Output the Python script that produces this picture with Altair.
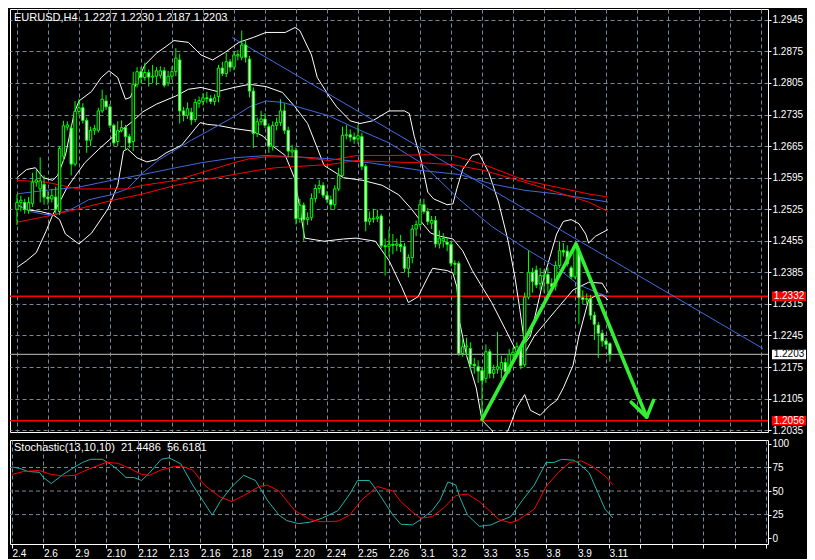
import json
import altair as alt
import pandas as pd

# ---------------- data ----------------
bar_open = [
    1.2525, 1.2540, 1.2540, 1.2523, 1.2538, 1.2585, 1.2570, 1.2580, 1.2552, 1.2548,
    1.2552, 1.2520, 1.2643, 1.2707, 1.2705, 1.2625, 1.2742, 1.2750, 1.2722, 1.2678,
    1.2700, 1.2700, 1.2743, 1.2765, 1.2752, 1.2711, 1.2675, 1.2700, 1.2706, 1.2686,
    1.2675, 1.2802, 1.2830, 1.2817, 1.2828, 1.2818, 1.2820, 1.2822, 1.2832, 1.2805,
    1.2820, 1.2830, 1.2856, 1.2743, 1.2733, 1.2740, 1.2724, 1.2760, 1.2764, 1.2772,
    1.2770, 1.2764, 1.2775, 1.2838, 1.2826, 1.2852, 1.2840, 1.2865, 1.2862, 1.2889,
    1.2858, 1.2787, 1.2693, 1.2719, 1.2725, 1.2708, 1.2665, 1.2711, 1.2717, 1.2743,
    1.2700, 1.2652, 1.2656, 1.2504, 1.2534, 1.2502, 1.2506, 1.2549, 1.2571, 1.2578,
    1.2556, 1.2546, 1.2535, 1.2570, 1.2600, 1.2689, 1.2690, 1.2685, 1.2681, 1.2686,
    1.2620, 1.2498, 1.2503, 1.2505, 1.2510, 1.2444, 1.2442, 1.2447, 1.2445, 1.2447,
    1.2442, 1.2394, 1.2418, 1.2481, 1.2491, 1.2535, 1.2520, 1.2494, 1.2500, 1.2448,
    1.2455, 1.2452, 1.2447, 1.2405, 1.2405, 1.2205, 1.2220, 1.2216, 1.2181, 1.2176,
    1.2167, 1.2150, 1.2209, 1.2161, 1.2170, 1.2170, 1.2185, 1.2165, 1.2203, 1.2208,
    1.2218, 1.2180, 1.2330, 1.2385, 1.2390, 1.2360, 1.2376, 1.2380, 1.2360, 1.2355,
    1.2400, 1.2433, 1.2432, 1.2395, 1.2375, 1.2430, 1.2329, 1.2325, 1.2327, 1.2290,
    1.2268, 1.2250, 1.2233, 1.2227,
]
bar_high = [
    1.2558, 1.2555, 1.2548, 1.2552, 1.2606, 1.2612, 1.2640, 1.2600, 1.2565, 1.2570,
    1.2575, 1.2665, 1.2721, 1.2720, 1.2712, 1.2765, 1.2770, 1.2760, 1.2728, 1.2708,
    1.2712, 1.2750, 1.2790, 1.2778, 1.2758, 1.2715, 1.2720, 1.2722, 1.2712, 1.2692,
    1.2830, 1.2840, 1.2840, 1.2850, 1.2835, 1.2845, 1.2840, 1.2842, 1.2840, 1.2832,
    1.2842, 1.2882, 1.2870, 1.2752, 1.2762, 1.2750, 1.2770, 1.2775, 1.2782, 1.2785,
    1.2778, 1.2780, 1.2845, 1.2852, 1.2872, 1.2858, 1.2875, 1.2878, 1.2921, 1.2900,
    1.2865, 1.2795, 1.2728, 1.2743, 1.2738, 1.2715, 1.2720, 1.2728, 1.2769, 1.2760,
    1.2708, 1.2668, 1.2662, 1.2548, 1.2540, 1.2518, 1.2560, 1.2580, 1.2590, 1.2585,
    1.2565, 1.2555, 1.2578, 1.2617, 1.2708, 1.2712, 1.2702, 1.2695, 1.2712, 1.2695,
    1.2625, 1.2520, 1.2526, 1.2524, 1.2515, 1.2460, 1.2480, 1.2470, 1.2460, 1.2468,
    1.2450, 1.2425, 1.2490, 1.2500, 1.2546, 1.2548, 1.2528, 1.2510, 1.2510, 1.2478,
    1.2472, 1.2462, 1.2455, 1.2412, 1.2410, 1.2237, 1.2240, 1.2230, 1.2195, 1.2190,
    1.2175, 1.2225, 1.2215, 1.2180, 1.2253, 1.2200, 1.2195, 1.2215, 1.2218, 1.2230,
    1.2225, 1.2340, 1.2433, 1.2395, 1.2400, 1.2395, 1.2392, 1.2395, 1.2372, 1.2410,
    1.2454, 1.2450, 1.2445, 1.2400, 1.2452, 1.2440, 1.2345, 1.2338, 1.2335, 1.2298,
    1.2275, 1.2258, 1.2240, 1.2230,
]
bar_low = [
    1.2490, 1.2520, 1.2515, 1.2515, 1.2530, 1.2575, 1.2540, 1.2535, 1.2535, 1.2540,
    1.2515, 1.2512, 1.2630, 1.2700, 1.2600, 1.2620, 1.2735, 1.2715, 1.2650, 1.2665,
    1.2690, 1.2695, 1.2738, 1.2745, 1.2705, 1.2665, 1.2665, 1.2695, 1.2656, 1.2660,
    1.2654, 1.2795, 1.2805, 1.2810, 1.2797, 1.2805, 1.2800, 1.2815, 1.2795, 1.2798,
    1.2812, 1.2820, 1.2715, 1.2720, 1.2725, 1.2712, 1.2718, 1.2750, 1.2755, 1.2760,
    1.2758, 1.2755, 1.2762, 1.2820, 1.2818, 1.2830, 1.2833, 1.2855, 1.2855, 1.2850,
    1.2773, 1.2661, 1.2685, 1.2712, 1.2705, 1.2650, 1.2655, 1.2700, 1.2710, 1.2692,
    1.2640, 1.2640, 1.2491, 1.2495, 1.2455, 1.2490, 1.2500, 1.2540, 1.2560, 1.2550,
    1.2538, 1.2524, 1.2525, 1.2565, 1.2595, 1.2680, 1.2675, 1.2670, 1.2670, 1.2612,
    1.2476, 1.2490, 1.2495, 1.2497, 1.2438, 1.2378, 1.2420, 1.2425, 1.2432, 1.2430,
    1.2385, 1.2374, 1.2405, 1.2465, 1.2485, 1.2515, 1.2490, 1.2481, 1.2440, 1.2438,
    1.2440, 1.2432, 1.2398, 1.2379, 1.2200, 1.2198, 1.2200, 1.2168, 1.2160, 1.2140,
    1.2058, 1.2140, 1.2150, 1.2150, 1.2160, 1.2150, 1.2155, 1.2160, 1.2195, 1.2200,
    1.2170, 1.2175, 1.2325, 1.2340, 1.2350, 1.2345, 1.2340, 1.2340, 1.2345, 1.2345,
    1.2395, 1.2420, 1.2398, 1.2370, 1.2370, 1.2270, 1.2315, 1.2315, 1.2280, 1.2235,
    1.2195, 1.2220, 1.2215, 1.2187,
]
bar_close = [
    1.2540, 1.2545, 1.2525, 1.2540, 1.2585, 1.2590, 1.2588, 1.2552, 1.2548, 1.2555,
    1.2525, 1.2660, 1.2710, 1.2712, 1.2625, 1.2742, 1.2750, 1.2722, 1.2678, 1.2700,
    1.2704, 1.2743, 1.2769, 1.2752, 1.2711, 1.2672, 1.2700, 1.2706, 1.2686, 1.2672,
    1.2802, 1.2830, 1.2817, 1.2828, 1.2818, 1.2820, 1.2832, 1.2832, 1.2800, 1.2820,
    1.2830, 1.2860, 1.2743, 1.2733, 1.2748, 1.2723, 1.2762, 1.2766, 1.2772, 1.2770,
    1.2764, 1.2772, 1.2838, 1.2826, 1.2852, 1.2840, 1.2867, 1.2868, 1.2889, 1.2862,
    1.2787, 1.2693, 1.2719, 1.2725, 1.2711, 1.2665, 1.2711, 1.2717, 1.2743, 1.2700,
    1.2654, 1.2656, 1.2504, 1.2534, 1.2502, 1.2506, 1.2549, 1.2571, 1.2578, 1.2556,
    1.2546, 1.2535, 1.2570, 1.2600, 1.2689, 1.2690, 1.2685, 1.2680, 1.2688, 1.2620,
    1.2498, 1.2504, 1.2505, 1.2508, 1.2444, 1.2442, 1.2447, 1.2445, 1.2448, 1.2442,
    1.2394, 1.2418, 1.2481, 1.2491, 1.2535, 1.2520, 1.2498, 1.2500, 1.2448, 1.2461,
    1.2460, 1.2447, 1.2405, 1.2403, 1.2205, 1.2220, 1.2222, 1.2181, 1.2178, 1.2166,
    1.2145, 1.2209, 1.2161, 1.2170, 1.2176, 1.2185, 1.2165, 1.2203, 1.2208, 1.2220,
    1.2178, 1.2330, 1.2385, 1.2365, 1.2357, 1.2378, 1.2378, 1.2360, 1.2353, 1.2400,
    1.2433, 1.2430, 1.2404, 1.2375, 1.2440, 1.2329, 1.2325, 1.2327, 1.2290, 1.2270,
    1.2250, 1.2233, 1.2225, 1.2203,
]

# Bollinger-style white bands (bar index, price)
upper_bar = [0, 2.5, 4.75, 6.75, 9.25, 10.5, 12.5, 14.75, 16, 19.25,
             21.75, 23.75, 26, 28, 29.25, 31, 33, 36, 38.5, 40.5,
             44.25, 47.5, 50.5, 53.75, 57.25, 61, 64.25, 69.25, 71.75, 73,
             76, 77.5, 80.5, 82.5, 86, 88.5, 91.75, 96, 100, 101.25,
             102.5, 104.25, 106, 107.5, 111, 112.5, 113.5, 115, 117.5, 119.25,
             121.75, 124.25, 126.75, 128.5, 129.75, 131, 132.5, 136, 139.25, 141,
             143, 145, 146.75, 147.5, 149.25, 152.5]
upper_val = [1.2595, 1.2613, 1.2617, 1.2595, 1.2589, 1.2600, 1.2644, 1.2737, 1.2765, 1.2786,
             1.2817, 1.2832, 1.2817, 1.2769, 1.2773, 1.2808, 1.2845, 1.2871, 1.2886, 1.2899,
             1.2895, 1.2867, 1.2856, 1.2873, 1.2895, 1.2906, 1.2917, 1.2917, 1.2928, 1.2921,
             1.2867, 1.2817, 1.2776, 1.2752, 1.2721, 1.2715, 1.2721, 1.2743, 1.2743, 1.2737,
             1.2687, 1.2635, 1.2563, 1.2548, 1.2535, 1.2537, 1.2570, 1.2613, 1.2644, 1.2648,
             1.2606, 1.2541, 1.2454, 1.2374, 1.2303, 1.2227, 1.2244, 1.2374, 1.2470, 1.2498,
             1.2502, 1.2493, 1.2470, 1.2450, 1.2465, 1.2480]
middle_bar = [0, 2.5, 5, 7.5, 9.25, 11, 13, 14.75, 17.5, 21,
              24.25, 27.5, 30, 32.5, 36, 41, 44.25, 47.5, 51.75, 56,
              60, 64.25, 68.5, 71.75, 75, 79.25, 84.25, 89.25, 94.25, 98.5,
              101.75, 104.25, 106.75, 109.25, 112.5, 115, 117.5, 120.5, 122.5, 126,
              128.5, 130.5, 133.5, 139.25, 143.5, 147.5, 151, 152.5]
middle_val = [1.2396, 1.2411, 1.2429, 1.2476, 1.2513, 1.2541, 1.2574, 1.2595, 1.2628, 1.2657,
              1.2682, 1.2704, 1.2721, 1.2741, 1.2758, 1.2776, 1.2791, 1.2795, 1.2786, 1.2795,
              1.2802, 1.2797, 1.2784, 1.2752, 1.2715, 1.2622, 1.2595, 1.2589, 1.2578, 1.2557,
              1.2526, 1.2498, 1.2472, 1.2465, 1.2459, 1.2433, 1.2389, 1.2346, 1.2318, 1.2259,
              1.2216, 1.2198, 1.2244, 1.2303, 1.2346, 1.2363, 1.2361, 1.2340]
lower_bar = [0, 2.5, 6, 9.25, 11, 12.5, 16, 19.25, 23.5, 26,
             27.5, 28.5, 31, 33.5, 36, 38.5, 42.5, 46, 47.25, 49.25,
             51.75, 56, 61, 63.5, 66, 69.25, 71.75, 74.25, 79.25, 84.25,
             87.5, 92.5, 96, 99.25, 101, 103.5, 106, 107.25, 111, 112.5,
             113.5, 114.25, 116, 118.5, 120, 122.5, 124.25, 126.75, 129, 131,
             132.5, 135, 137.5, 139.25, 141, 143.5, 145, 147.5, 149.25, 151,
             152.5]
lower_val = [1.2535, 1.2524, 1.2520, 1.2513, 1.2502, 1.2470, 1.2448, 1.2472, 1.2526, 1.2578,
             1.2654, 1.2659, 1.2639, 1.2630, 1.2635, 1.2650, 1.2667, 1.2704, 1.2717, 1.2713,
             1.2711, 1.2704, 1.2698, 1.2687, 1.2665, 1.2644, 1.2591, 1.2461, 1.2454, 1.2459,
             1.2461, 1.2454, 1.2411, 1.2353, 1.2318, 1.2331, 1.2374, 1.2394, 1.2389, 1.2383,
             1.2353, 1.2274, 1.2201, 1.2129, 1.2057, 1.2035, 1.2010, 1.2035, 1.2086, 1.2114,
             1.2079, 1.2068, 1.2090, 1.2101, 1.2129, 1.2179, 1.2244, 1.2324, 1.2333, 1.2335,
             1.2324]

# moving averages
blue1_bar = [0, 7.5, 16, 24.25, 32.5, 41, 47.5, 56, 64.25, 72.5, 80.5, 91, 104.25, 114.25,
             122.5, 131, 139.25, 147.5, 152.5]
blue1_val = [1.2559, 1.2567, 1.2574, 1.2589, 1.2602, 1.2617, 1.2628, 1.2639, 1.2644, 1.2641,
             1.2637, 1.2628, 1.2611, 1.2602, 1.2581, 1.2567, 1.2559, 1.2548, 1.2541]
blue2_bar = [0, 3.5, 7.5, 10, 14.25, 18.5, 24.25, 28.5, 32.5, 36.75, 41, 45, 49.25, 56, 60,
             64.25, 68.5, 72.5, 80.5, 87.5, 96, 104.25, 114.25, 122.5, 131, 139.25, 145,
             149.25, 152.5]
blue2_val = [1.2535, 1.2520, 1.2513, 1.2513, 1.2526, 1.2546, 1.2557, 1.2570, 1.2606, 1.2635,
             1.2657, 1.2678, 1.2698, 1.2730, 1.2752, 1.2765, 1.2762, 1.2752, 1.2732, 1.2704,
             1.2672, 1.2628, 1.2546, 1.2487, 1.2439, 1.2396, 1.2357, 1.2342, 1.2331]
red1_bar = [0, 7.5, 12.5, 16, 28.5, 32.5, 41, 47.5, 56, 60, 64.25, 72.5, 80.5, 87.5, 96,
            106.75, 112.5, 120.5, 131, 139.25, 147.5, 152.5]
red1_val = [1.2589, 1.2585, 1.2576, 1.2570, 1.2570, 1.2578, 1.2589, 1.2606, 1.2628, 1.2637,
            1.2641, 1.2641, 1.2633, 1.2644, 1.2644, 1.2646, 1.2644, 1.2624, 1.2589, 1.2574,
            1.2559, 1.2552]
red2_bar = [0, 7.5, 16, 24.25, 32.5, 41, 47.5, 56, 61.75, 66.75, 72.5, 80.5, 87.5, 96,
            104.25, 112.5, 120.5, 131, 139.25, 147.5, 152.5]
red2_val = [1.2496, 1.2509, 1.2526, 1.2544, 1.2559, 1.2578, 1.2589, 1.2602, 1.2611, 1.2617,
            1.2620, 1.2624, 1.2633, 1.2630, 1.2628, 1.2624, 1.2611, 1.2585, 1.2563, 1.2541,
            1.2520]

# drawn objects
trend_bar = [55.5, 192.5]
trend_val = [1.2906, 1.2216]
zig_bar = [120, 144.25, 162.5]
zig_val = [1.2059, 1.2448, 1.2064]
head_bar = [158.5, 162.5, 164.25]
head_val = [1.2097, 1.2064, 1.2101]
level_prices = [1.2332, 1.2056]

# stochastic (13,10,10)
k_bar = [0, 2, 4, 7, 8, 10, 11, 13, 16, 18, 20, 23, 25, 27, 29, 31, 33, 35, 38, 40,
         43, 46, 48, 51, 53, 56, 59, 62, 65, 68, 70, 73, 76, 79, 83, 86, 88, 91, 93, 97,
         99, 102, 104, 107, 109, 111, 113, 114, 116, 119, 122, 124, 127, 130, 133, 136,
         138, 140, 143, 144, 147, 149, 151, 153]
k_val = [75.6, 74.0, 70.8, 69.9, 64.4, 58.0, 61.2, 67.6, 75.6, 80.4, 83.7, 83.7, 78.8,
         72.4, 64.4, 64.4, 61.2, 69.2, 83.7, 85.3, 78.8, 56.4, 43.6, 24.4, 38.8, 54.8,
         66.7, 61.2, 40.4, 24.4, 18.6, 15.4, 17.0, 21.2, 29.2, 46.8, 61.2, 61.2, 50.0,
         24.4, 14.7, 14.1, 19.6, 29.2, 40.4, 59.6, 56.4, 43.6, 24.4, 12.5, 14.1, 17.9,
         22.8, 40.4, 56.4, 80.4, 80.4, 83.7, 82.7, 80.4, 69.2, 50.0, 30.8, 21.4486]
d_bar = [0, 3, 7, 10, 13, 16, 19, 24, 27, 30, 33, 35, 38, 41, 43, 46, 49, 53, 56, 59,
         63, 65, 68, 72, 76, 79, 83, 86, 89, 93, 97, 99, 102, 104, 107, 110, 113, 116,
         119, 122, 124, 127, 129, 133, 136, 139, 142, 145, 148, 151, 153]
d_val = [67.6, 70.8, 71.8, 67.6, 66.0, 66.7, 72.4, 80.4, 79.5, 74.0, 67.6, 66.7, 72.4,
         75.6, 76.6, 72.4, 56.4, 43.6, 38.8, 45.2, 54.8, 56.4, 50.0, 29.2, 19.6, 17.3,
         18.0, 24.4, 40.4, 54.8, 50.0, 38.8, 27.6, 21.2, 22.8, 32.4, 45.2, 46.8, 38.8,
         27.6, 19.6, 16.3, 19.6, 30.8, 54.8, 69.2, 80.4, 82.0, 75.6, 66.0, 56.6181]
sto_levels = [25, 50, 75]

date_labels = ["2.4", "2.6", "2.9", "2.10", "2.12", "2.13", "2.16", "2.18", "2.19", "2.20",
               "2.24", "2.25", "2.26", "3.1", "3.2", "3.3", "3.5", "3.8", "3.9", "3.11"]
price_ticks = [1.2035, 1.2105, 1.2175, 1.2245, 1.2315, 1.2385, 1.2455, 1.2525, 1.2595,
               1.2665, 1.2735, 1.2805, 1.2875, 1.2945]
sto_ticks = [0, 25, 50, 75, 100]
NB = "\u00a0"
header_text = f"EURUSD,H4{NB}{NB}1.2227{NB}1.2230{NB}1.2187{NB}1.2203"
sto_text = f"Stochastic(13,10,10){NB}{NB}21.4486{NB}{NB}56.6181"

# ---------------- tables ----------------
candles = pd.DataFrame({"bar": list(range(len(bar_close))), "open": bar_open,
                        "high": bar_high, "low": bar_low, "close": bar_close})
candles["dir"] = ["up" if c >= o else "down" for o, c in zip(bar_open, bar_close)]

series = [("upper", upper_bar, upper_val), ("middle", middle_bar, middle_val),
          ("lower", lower_bar, lower_val), ("blue1", blue1_bar, blue1_val),
          ("blue2", blue2_bar, blue2_val), ("red1", red1_bar, red1_val),
          ("red2", red2_bar, red2_val), ("trend", trend_bar, trend_val)]
lines = pd.DataFrame([{"name": n, "bar": b, "price": p}
                      for n, bs, ps in series for b, p in zip(bs, ps)])
arrow = pd.DataFrame([{"seg": "zig", "bar": b, "price": p} for b, p in zip(zig_bar, zig_val)] +
                     [{"seg": "head", "bar": b, "price": p} for b, p in zip(head_bar, head_val)])
hlines = pd.DataFrame({"price": level_prices + [bar_close[-1]],
                       "kind": ["level"] * len(level_prices) + ["last"]})
stoch = pd.DataFrame([{"name": "K", "bar": b, "v": v} for b, v in zip(k_bar, k_val)] +
                     [{"name": "D", "bar": b, "v": v} for b, v in zip(d_bar, d_val)])

# ---------------- styling ----------------
W = 758
H_MAIN = 423
H_STO = 104
GRID = "#778899"
DASH = [4, 3]
GREEN = "#00ff00"
FONT = "Liberation Sans"
X_DOMAIN = [-0.5, 192.5]
grid_bars = list(range(0, 193, 8))

x_scale = alt.Scale(domain=X_DOMAIN, nice=False, zero=False)
y_scale = alt.Scale(domain=[1.2031, 1.2969], nice=False, zero=False)

x_axis_main = alt.Axis(values=grid_bars, grid=True, gridColor=GRID, gridDash=DASH,
                       labels=False, ticks=False, domain=False, title=None,
                       minExtent=0, maxExtent=0)
y_axis_main = alt.Axis(orient="right", values=price_ticks, format=".4f", grid=True,
                       gridColor=GRID, gridDash=DASH, title=None, domain=False,
                       tickSize=3, labelPadding=1, labelOverlap=False)


def X(field="bar"):
    return alt.X(f"{field}:Q", scale=x_scale, axis=x_axis_main)


def Y(field="price"):
    return alt.Y(f"{field}:Q", scale=y_scale, axis=y_axis_main)


hl_layer = alt.Chart(hlines).mark_rule(strokeWidth=1.3).encode(
    y=Y(),
    color=alt.Color("kind:N", scale=alt.Scale(domain=["level", "last"], range=["#ff0000", "#9a9a9a"]),
                    legend=None),
)

line_layer = alt.Chart(lines).mark_line(strokeWidth=1, clip=True).encode(
    x=X(), y=Y(),
    color=alt.Color("name:N", scale=alt.Scale(
        domain=["upper", "middle", "lower", "blue1", "blue2", "red1", "red2", "trend"],
        range=["#ffffff", "#ffffff", "#ffffff", "#4169e1", "#4169e1", "#ff0000", "#ff0000", "#4169e1"]),
        legend=None),
)

wick_layer = alt.Chart(candles).mark_rule(color=GREEN, strokeWidth=1).encode(
    x=X(), y=Y("low"), y2="high:Q")

body_layer = alt.Chart(candles).mark_bar(width=2.4, stroke=GREEN, strokeWidth=1).encode(
    x=X(), y=Y("open"), y2="close:Q",
    fill=alt.Fill("dir:N", scale=alt.Scale(domain=["up", "down"], range=["#000000", "#ffffff"]),
                  legend=None),
)

arrow_layer = alt.Chart(arrow).mark_line(color="#33ee33", strokeWidth=3.6,
                                         strokeCap="round", strokeJoin="round").encode(
    x=X(), y=Y(), detail="seg:N")

header_layer = alt.Chart(pd.DataFrame({"t": [header_text]})).mark_text(
    align="left", baseline="middle", color="white", font=FONT, fontSize=11).encode(
    x=alt.value(4), y=alt.value(9), text="t:N")

box_shape = "M-1,-0.28L1,-0.28L1,0.28L-1,0.28Z"
box_layer = alt.Chart(hlines).mark_point(shape=box_shape, size=1156, filled=True, opacity=1,
                                         strokeWidth=0).encode(
    x=alt.value(W + 21), y=Y(),
    fill=alt.Fill("kind:N", scale=alt.Scale(domain=["level", "last"], range=["#ff0000", "#ffffff"]),
                  legend=None),
)
box_text = alt.Chart(hlines).mark_text(align="center", baseline="middle", font=FONT,
                                       fontSize=10).encode(
    x=alt.value(W + 21), y=Y(),
    text=alt.Text("price:Q", format=".4f"),
    color=alt.Color("kind:N", scale=alt.Scale(domain=["level", "last"], range=["#ffffff", "#000000"]),
                    legend=None),
)

main = alt.layer(hl_layer, line_layer, wick_layer, body_layer, arrow_layer,
                 header_layer, box_layer, box_text).resolve_scale(
    color="independent", fill="independent").properties(width=W, height=H_MAIN)

# ---------------- stochastic panel ----------------
label_expr = ("datum.value <= 152 ? " + json.dumps(date_labels) +
              "[round(datum.value / 8)] : ''")
x_axis_sto = alt.Axis(values=grid_bars, grid=True, gridColor=GRID, gridDash=DASH,
                      labelExpr=label_expr, labelAlign="left", labelPadding=0, tickSize=4,
                      domain=False, title=None, labelOverlap=False, labelFlush=False)
s_scale = alt.Scale(domain=[-6.25, 104.2], nice=False, zero=False)
y_axis_sto = alt.Axis(orient="right", values=sto_ticks, format="d", grid=False, title=None,
                      domain=False, tickSize=3, labelPadding=1, labelOverlap=False)


def SX():
    return alt.X("bar:Q", scale=x_scale, axis=x_axis_sto)


def SY(field="v"):
    return alt.Y(f"{field}:Q", scale=s_scale, axis=y_axis_sto)


sto_grid = alt.Chart(pd.DataFrame({"v": sto_levels})).mark_rule(
    color=GRID, strokeDash=DASH, strokeWidth=1).encode(y=SY())

sto_lines = alt.Chart(stoch).mark_line(strokeWidth=1).encode(
    x=SX(), y=SY(),
    color=alt.Color("name:N", scale=alt.Scale(domain=["K", "D"], range=["#20b2aa", "#ff0000"]),
                    legend=None),
)
sto_title = alt.Chart(pd.DataFrame({"t": [sto_text]})).mark_text(
    align="left", baseline="middle", color="white", font=FONT, fontSize=11).encode(
    x=alt.value(4), y=alt.value(8), text="t:N")

sto_panel = alt.layer(sto_grid, sto_lines, sto_title).properties(width=W, height=H_STO)

chart = alt.vconcat(main, sto_panel, spacing=2).properties(
    padding=0, background="#000000"
).configure_view(
    stroke="#ffffff", strokeWidth=1, fill="#000000"
).configure_axis(
    labelFont=FONT, labelFontSize=10, labelColor="#ffffff", tickColor="#ffffff"
)

chart.save("out.html", embed_options={"renderer": "svg", "actions": False})
